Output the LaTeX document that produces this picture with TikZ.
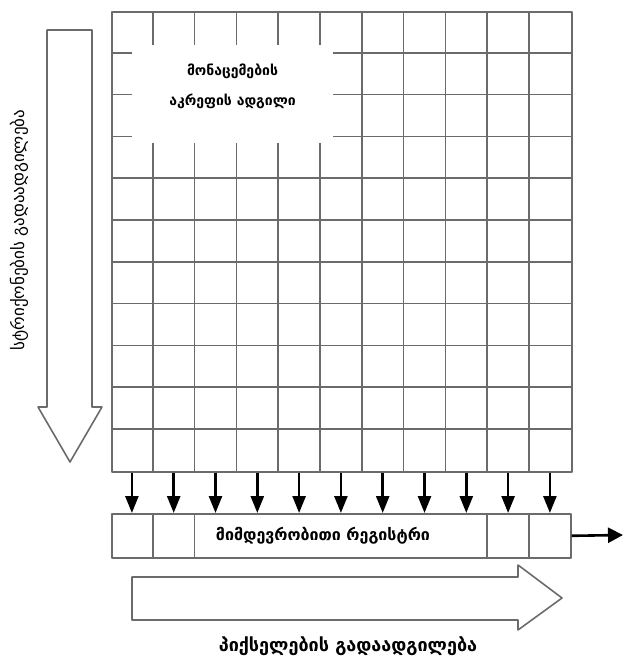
\documentclass[tikz,border=0pt]{standalone}
\usepackage{fontspec}
\setmainfont{DejaVu Sans}
\usetikzlibrary{arrows.meta}

\tikzset{
  gridline/.style={line width=1.6pt,color=black!58},
  hollow/.style={line width=1.6pt,draw=black!58,fill=white},
  chargearrow/.style={line width=2.6pt,color=black},
  label/.style={font=\bfseries\fontsize{14}{16}\selectfont,align=center},
}

\begin{document}
\begin{tikzpicture}[line join=round,>={Triangle[length=17pt,width=13pt]},x=1pt,y=-1pt]
\useasboundingbox (0,0) rectangle (625,660);
% image area
\node[draw=black!58,line width=1.6pt,minimum width=460pt,minimum height=460pt,inner sep=0pt,anchor=north west] (ccd) at (111,11) {};
\foreach \i in {1,...,10} {
  \draw[gridline] (111+41.8*\i,11) -- (111+41.8*\i,471);
  \draw[gridline] (111,11+41.8*\i) -- (571,11+41.8*\i);
}
\node[fill=white,minimum width=201pt,minimum height=98pt,inner sep=0pt] (data) at (232.5,94) {};
\node[label] (datatext) at ([yshift=8pt]data.center) {მონაცემების\\[14pt]აკრეფის ადგილი};
% serial register
\node[draw=black!58,line width=1.6pt,minimum width=459pt,minimum height=44pt,inner sep=0pt,anchor=north west] (reg) at (111,513) {};
\draw[gridline] (152.8,513) -- (152.8,557);
\draw[gridline] (194.6,513) -- (194.6,557);
\draw[gridline] (487.2,513) -- (487.2,557);
\draw[gridline] (529,513) -- (529,557);
\node[label,font=\bfseries\fontsize{16}{18}\selectfont] (regtext) at (323,536) {მიმდევრობითი რეგისტრი};
\foreach \i in {0,...,10}
  \draw[chargearrow,->] (ccd.south west) ++(20.9+41.8*\i,0) coordinate (t\i) -- (t\i |- reg.north);
\coordinate (out) at (623,535);
\draw[chargearrow,-{Triangle[length=15pt,width=15pt]}] (reg.east) -- (out);
% line shift arrow
\draw[hollow] (47,30) -- (92,30) -- (92,407) -- (102,407) -- (70,462) -- (38,407) -- (47,407) -- cycle;
\node[font=\fontsize{17}{19}\selectfont,rotate=90] (rows) at (19,230) {სტრიქონების გადაადგილება};
% pixel shift arrow
\draw[hollow] (132,577) -- (518,577) -- (518,565) -- (562,598) -- (518,630) -- (518,620) -- (132,620) -- cycle;
\node[label,font=\bfseries\fontsize{18}{20}\selectfont] (pixels) at (348,646) {პიქსელების გადაადგილება};
\end{tikzpicture}
\end{document}
